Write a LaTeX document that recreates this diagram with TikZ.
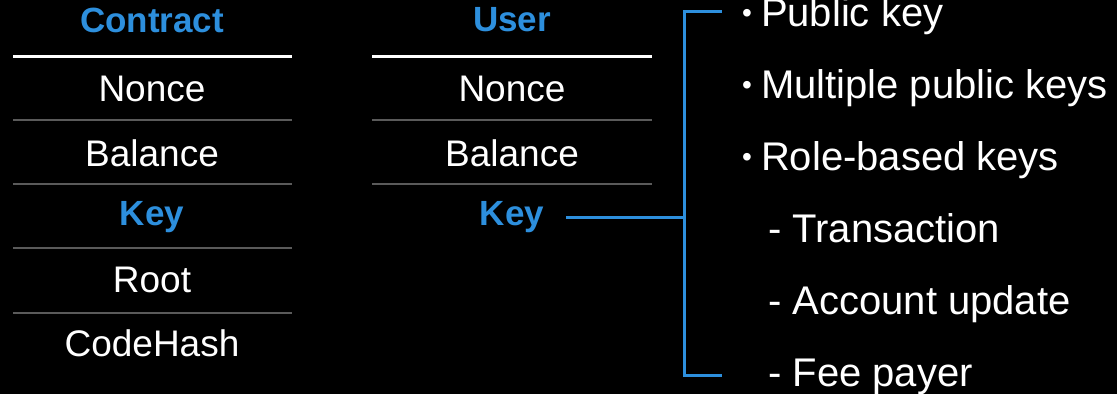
\documentclass[tikz,border=0pt]{standalone}
\usepackage{fontspec}
\setmainfont{Liberation Sans}
\definecolor{accent}{HTML}{2D8FDD}
\definecolor{rule}{HTML}{5A5A5A}
\newcommand\listdot{\raisebox{4pt}{\fontsize{28}{28}\selectfont\textbullet}\hspace{9pt}}
\begin{document}
\begin{tikzpicture}[x=1pt,y=-1pt,
  field/.style={text=white,font=\fontsize{37}{42}\selectfont,anchor=center,inner sep=0pt},
  head/.style={text=accent,font=\bfseries\fontsize{35}{40}\selectfont,anchor=center,inner sep=0pt},
  item/.style={text=white,font=\fontsize{40}{44}\selectfont,anchor=base west,inner sep=0pt},
  toprule/.style={draw=white,line width=3pt},
  sep/.style={draw=rule,line width=2pt},
  link/.style={draw=accent,line width=3pt}]
\fill[black] (0,0) rectangle (1117,394);
\useasboundingbox (0,0) rectangle (1117,394);

% Contract account
\node[head]  (chead) at (152,20)  {Contract};
\node[field] (cnon)  at (152,89)  {Nonce};
\node[field] (cbal)  at (152,153) {Balance};
\node[head]  (ckey)  at (152,217) {Key};
\node[field] (croot) at (152,280) {Root};
\node[field] (ccode) at (152,343) {CodeHash};
\draw[toprule] (13,56) -- (292,56);
\foreach \y in {120,184,248,313} \draw[sep] (13,\y) -- (292,\y);

% User account
\node[head]  (uhead) at (512,20)  {User};
\node[field] (unon)  at (512,89)  {Nonce};
\node[field] (ubal)  at (512,153) {Balance};
\node[head]  (ukey)  at (512,217) {Key};
\draw[toprule] (372,56) -- (652,56);
\foreach \y in {120,184} \draw[sep] (372,\y) -- (652,\y);

% Key variants
\node[item] (k1) at (742,26)  {\listdot Public key};
\node[item] (k2) at (742,98)  {\listdot Multiple public keys};
\node[item] (k3) at (742,170) {\listdot Role-based keys};
\node[item] (k4) at (768,242) {- Transaction};
\node[item] (k5) at (768,314) {- Account update};
\node[item] (k6) at (768,386) {- Fee payer};

% Bracket joining the key to its variants
\coordinate (btop) at (684,11);
\coordinate (bbot) at (684,375);
\coordinate (tend) at (720,11);
\coordinate (bend) at (720,375);
\coordinate (kstart) at ([xshift=22pt]ukey.east);
\draw[link] (kstart) -- (kstart -| btop);
\draw[link,line cap=rect] (tend) -- (btop) -- (bbot) -- (bend);
\end{tikzpicture}
\end{document}
